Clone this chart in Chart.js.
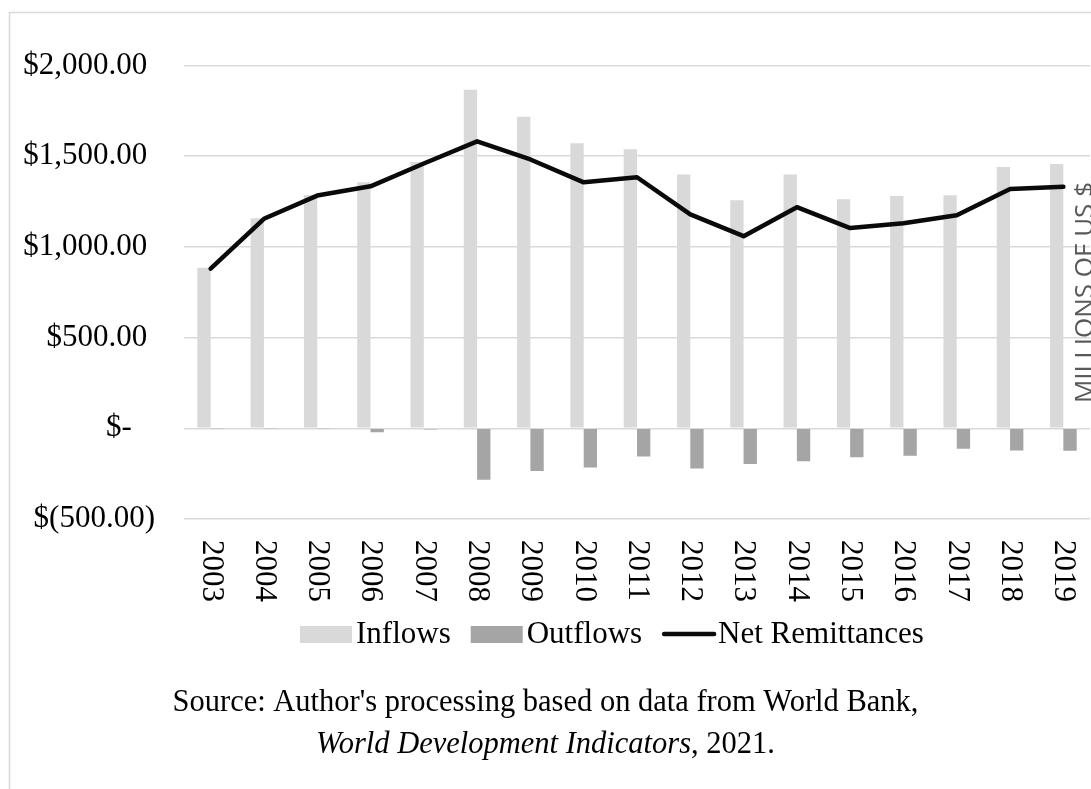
<!DOCTYPE html>
<html>
<head>
<meta charset="utf-8">
<script src="https://cdn.jsdelivr.net/npm/chart.js@4/dist/chart.umd.min.js"></script>
<style>
  html, body { margin: 0; padding: 0; background: #ffffff; overflow: hidden; }
  #wrap { position: relative; width: 1091px; height: 789px; }
  canvas { display: block; }
</style>
</head>
<body>
<div id="wrap"><canvas id="chart" width="1091" height="789"></canvas></div>
<script>
// Remittance flows, millions of US $
const CATEGORIES = ['2003', '2004', '2005', '2006', '2007', '2008', '2009', '2010', '2011',
                    '2012', '2013', '2014', '2015', '2016', '2017', '2018', '2019'];
const INFLOWS  = [885, 1158, 1286, 1356, 1468, 1866, 1718, 1571, 1538, 1399, 1257, 1399, 1263, 1281, 1285, 1440, 1457];
const OUTFLOWS = [-2, -3, -3, -22, -6, -284, -236, -216, -155, -221, -197, -181, -159, -152, -113, -122, -124];
const NET      = [880, 1155, 1283, 1334, 1460, 1582, 1482, 1356, 1384, 1179, 1059, 1219, 1104, 1130, 1174, 1319, 1331];
const SERIES_NAMES = ['Inflows', 'Outflows', 'Net Remittances'];
const AXIS_UNITS = 'MILLIONS OF US $';
const SOURCE_LINE_1 = "Source: Author's processing based on data from World Bank,";
const SOURCE_LINE_2_ITALIC = 'World Development Indicators';
const SOURCE_LINE_2_REST = ', 2021.';

const SERIF = "'Liberation Serif', 'Times New Roman', serif";
const FONT_SIZE = 31;

// Accounting-style currency labels: "$1,500.00 ", "$-   ", "$(500.00)"
function accounting(v) {
  if (v === 0) return '$-   ';
  const s = Math.abs(v).toLocaleString('en-US', { minimumFractionDigits: 2, maximumFractionDigits: 2 });
  return v < 0 ? '$(' + s + ')' : '$' + s + ' ';
}

// Outer frame of the chart box
const framePlugin = {
  id: 'frame',
  beforeDraw(chart) {
    const ctx = chart.ctx;
    ctx.save();
    ctx.fillStyle = '#ffffff';
    ctx.fillRect(0, 0, chart.width, chart.height);
    ctx.strokeStyle = '#d9d9d9';
    ctx.lineWidth = 1.5;
    ctx.strokeRect(9.5, 12.5, 2000, 2000);
    ctx.restore();
  }
};

// Year labels turned a quarter turn clockwise under each category
const yearLabelsPlugin = {
  id: 'yearLabels',
  afterDraw(chart) {
    const ctx = chart.ctx;
    const xs = chart.scales.x;
    ctx.save();
    ctx.font = FONT_SIZE + 'px ' + SERIF;
    ctx.fillStyle = '#000000';
    ctx.textAlign = 'left';
    ctx.textBaseline = 'middle';
    xs.ticks.forEach((t, i) => {
      const px = xs.getPixelForTick(i);
      ctx.save();
      ctx.translate(px, chart.chartArea.bottom + 21);
      ctx.rotate(Math.PI / 2);
      ctx.fillText(xs.getLabelForValue(t.value), 0, 0);
      ctx.restore();
    });
    ctx.restore();
  }
};

// Units caption along the right edge, partly running off the canvas
const unitsPlugin = {
  id: 'units',
  afterDraw(chart) {
    const ctx = chart.ctx;
    ctx.save();
    ctx.font = "26px 'Open Sans', 'Liberation Sans', sans-serif";
    ctx.fillStyle = '#595959';
    ctx.textAlign = 'right';
    ctx.textBaseline = 'alphabetic';
    ctx.translate(1093, 182);
    ctx.rotate(-Math.PI / 2);
    ctx.fillText(AXIS_UNITS, 0, 0);
    ctx.restore();
  }
};

// Legend row: swatch, tight gap, series name
const legendPlugin = {
  id: 'legendRow',
  afterDraw(chart) {
    const ctx = chart.ctx;
    const y = 634;
    let x = 300;
    ctx.save();
    ctx.font = FONT_SIZE + 'px ' + SERIF;
    ctx.textAlign = 'left';
    ctx.textBaseline = 'middle';
    SERIES_NAMES.forEach((name) => {
      const ds = chart.data.datasets.find((d) => d.label === name);
      if (ds.type === 'line') {
        ctx.strokeStyle = ds.borderColor;
        ctx.lineWidth = ds.borderWidth;
        ctx.lineCap = 'round';
        ctx.beginPath();
        ctx.moveTo(x + 2, y);
        ctx.lineTo(x + 52, y);
        ctx.stroke();
      } else {
        ctx.fillStyle = ds.backgroundColor;
        ctx.fillRect(x, y - 8, 52, 17);
      }
      x += 56;
      ctx.fillStyle = '#000000';
      ctx.fillText(ds.label, x, y + 1);
      x += ctx.measureText(ds.label).width + 20;
    });
    ctx.restore();
  }
};

// Source note, centred, with the title of the dataset in italics
const sourcePlugin = {
  id: 'sourceNote',
  afterDraw(chart) {
    const ctx = chart.ctx;
    const cx = chart.width / 2;
    const size = 30.5;
    ctx.save();
    ctx.fillStyle = '#000000';
    ctx.textBaseline = 'middle';
    ctx.textAlign = 'center';
    ctx.font = size + 'px ' + SERIF;
    ctx.fillText(SOURCE_LINE_1, cx, 703);
    const italic = 'italic ' + size + 'px ' + SERIF;
    const normal = size + 'px ' + SERIF;
    ctx.font = italic;
    const w1 = ctx.measureText(SOURCE_LINE_2_ITALIC).width;
    ctx.font = normal;
    const w2 = ctx.measureText(SOURCE_LINE_2_REST).width;
    const x = cx - (w1 + w2) / 2;
    ctx.textAlign = 'left';
    ctx.font = italic;
    ctx.fillText(SOURCE_LINE_2_ITALIC, x, 745);
    ctx.font = normal;
    ctx.fillText(SOURCE_LINE_2_REST, x + w1, 745);
    ctx.restore();
  }
};

new Chart(document.getElementById('chart'), {
  type: 'bar',
  data: {
    labels: CATEGORIES,
    datasets: [
      {
        label: SERIES_NAMES[0],
        data: INFLOWS,
        backgroundColor: '#d9d9d9',
        categoryPercentage: 0.5,
        barPercentage: 1.0,
        order: 1
      },
      {
        label: SERIES_NAMES[1],
        data: OUTFLOWS,
        backgroundColor: '#a5a5a5',
        categoryPercentage: 0.5,
        barPercentage: 1.0,
        order: 1
      },
      {
        type: 'line',
        label: SERIES_NAMES[2],
        data: NET,
        borderColor: '#0a0a0a',
        borderWidth: 4.5,
        borderCapStyle: 'round',
        borderJoinStyle: 'round',
        pointRadius: 0,
        tension: 0,
        fill: false,
        order: 0
      }
    ]
  },
  options: {
    responsive: false,
    animation: false,
    devicePixelRatio: 1,
    layout: { padding: { top: 65.5, right: 1, left: 0, bottom: 0 } },
    plugins: {
      legend: { display: false },
      tooltip: { enabled: false },
      title: { display: false }
    },
    scales: {
      x: {
        offset: true,
        grid: { display: false, drawTicks: false },
        border: { display: false },
        ticks: { display: false },
        afterFit(scale) { scale.height = 270; }
      },
      y: {
        min: -500,
        max: 2000,
        grid: { color: '#d9d9d9', lineWidth: 1.5, drawTicks: false },
        border: { display: false },
        ticks: {
          stepSize: 500,
          padding: 29,
          color: '#000000',
          font: { family: SERIF, size: FONT_SIZE },
          callback: (v) => accounting(v)
        },
        afterFit(scale) { scale.width = 184; }
      }
    }
  },
  plugins: [framePlugin, yearLabelsPlugin, unitsPlugin, legendPlugin, sourcePlugin]
});
</script>
</body>
</html>
